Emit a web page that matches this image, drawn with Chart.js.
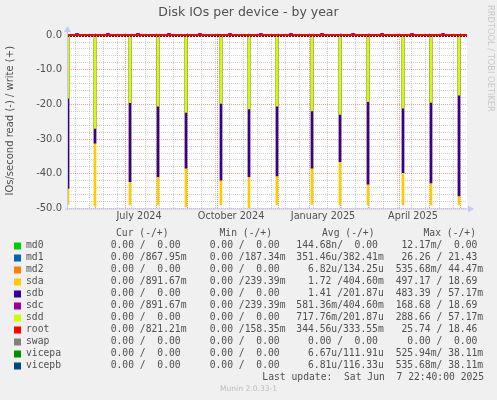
<!DOCTYPE html>
<html>
<head>
<meta charset="utf-8">
<script src="https://cdn.jsdelivr.net/npm/chart.js@4.4.1/dist/chart.umd.min.js"></script>
<style>
  html, body { margin: 0; padding: 0; background: #f0f0f0; }
  canvas { display: block; }
</style>
</head>
<body>
<canvas id="myChart" width="497" height="400"></canvas>
<script>
// 400 day window ending Sat Jun 7 2025 22:40
var windowStart = Date.UTC(2024, 4, 3, 22, 40);
var dayMs = 86400000;

var devices = ["md0", "md1", "md2", "sda", "sdb", "sdc", "sdd", "root", "swap", "vicepa", "vicepb"];
var deviceColors = ["#00cc00", "#0066b3", "#ff8000", "#ffcc00", "#330099", "#990099", "#ccff00", "#ff0000", "#808080", "#008f00", "#00487d"];

// monthly raid check spikes (day offset from window start), reads shown negative
var spikeDays = [1, 28, 63, 91, 119, 154, 182, 210, 245, 273, 301, 336, 364, 392];
var sdaRead = [-48.8, -49.3, -49.0, -49.0, -49.5, -49.0, -49.8, -49.0, -48.8, -49.0, -49.0, -49.0, -49.0, -49.0];
var sdbRead = [-44.2, -31.2, -42.3, -40.8, -38.4, -41.8, -40.8, -40.6, -38.4, -36.5, -43.0, -39.7, -42.6, -46.4];
var sddRead = [-18.2, -26.9, -19.5, -20.5, -22.3, -19.7, -21.3, -20.5, -21.9, -22.9, -19.2, -21.1, -19.4, -17.3];
// little write bumps above zero
var writeDays = [10, 41, 71, 102, 133, 163, 194, 224, 255, 286, 315, 345, 376];
var sdcWrite = [0.6, 0.6, 0.6, 0.6, 0.6, 0.6, 0.6, 0.6, 0.6, 0.6, 0.6, 0.6, 0.6];

// axis labels
var monthLabels = ["July 2024", "October 2024", "January 2025", "April 2025"];
var monthLabelDates = [[2024, 6, 15], [2024, 9, 15], [2025, 0, 15], [2025, 3, 15]];
var yLabelStep = 10;

// legend table
var legendCur = ["  0.00 /  0.00 ", "  0.00 /867.95m", "  0.00 /  0.00 ", "  0.00 /891.67m", "  0.00 /  0.00 ", "  0.00 /891.67m", "  0.00 /  0.00 ", "  0.00 /821.21m", "  0.00 /  0.00 ", "  0.00 /  0.00 ", "  0.00 /  0.00 "];
var legendMin = ["  0.00 /  0.00 ", "  0.00 /187.34m", "  0.00 /  0.00 ", "  0.00 /239.39m", "  0.00 /  0.00 ", "  0.00 /239.39m", "  0.00 /  0.00 ", "  0.00 /158.35m", "  0.00 /  0.00 ", "  0.00 /  0.00 ", "  0.00 /  0.00 "];
var legendAvg = ["144.68n/  0.00 ", "351.46u/382.41m", "  6.82u/134.25u", "  1.72 /404.60m", "  1.41 /201.87u", "581.36m/404.60m", "717.76m/201.87u", "344.56u/333.55m", "  0.00 /  0.00 ", "  6.67u/111.91u", "  6.81u/116.33u"];
var legendMax = [" 12.17m/  0.00 ", " 26.26 / 21.43 ", "535.68m/ 44.47m", "497.17 / 18.69 ", "483.39 / 57.17m", "168.68 / 18.69 ", "288.66 / 57.17m", " 25.74 / 18.46 ", "  0.00 /  0.00 ", "525.94m/ 38.11m", "535.68m/ 38.11m"];
var legendHeaders = ["Cur (-/+)", "Min (-/+)", "Avg (-/+)", "Max (-/+)"];
var lastUpdate = "Last update:  Sat Jun  7 22:40:00 2025";

function dayOf(y, m, d) {
  return (Date.UTC(y, m, d) - windowStart) / dayMs;
}

function points(days, vals) {
  var out = [];
  for (var i = 0; i < days.length; i++) out.push({ x: days[i], y: vals[i] });
  return out;
}

var seriesData = {
  sda: points(spikeDays, sdaRead),
  sdb: points(spikeDays, sdbRead),
  sdc: points(writeDays, sdcWrite),
  sdd: points(spikeDays, sddRead)
};

var datasets = devices.map(function (name, i) {
  return {
    label: name,
    data: seriesData[name] || [],
    backgroundColor: deviceColors[i],
    borderWidth: 0,
    barThickness: name === "sdc" ? 3 : 2,
    grouped: false,
    order: devices.length - i
  };
});

var MAJOR = "rgba(235,70,70,0.55)";
var MINOR = "rgba(150,150,150,0.45)";
var TEXT = "#505050";

var rrdPlugin = {
  id: "rrd",
  beforeDraw: function (chart) {
    var a = chart.chartArea, ctx = chart.ctx;
    ctx.save();
    ctx.fillStyle = "#ffffff";
    ctx.fillRect(a.left, a.top, a.right - a.left, a.bottom - a.top);
    ctx.restore();
  },
  afterDatasetsDraw: function (chart) {
    var a = chart.chartArea, ctx = chart.ctx;
    var y0 = chart.scales.y.getPixelForValue(0);
    ctx.save();
    ctx.strokeStyle = "#202020";
    ctx.lineWidth = 1;
    ctx.setLineDash([2, 1]);
    ctx.beginPath();
    ctx.moveTo(a.left, Math.round(y0) + 1.5);
    ctx.lineTo(a.right, Math.round(y0) + 1.5);
    ctx.stroke();
    ctx.setLineDash([]);
    ctx.strokeStyle = "#ff0000";
    ctx.lineWidth = 2;
    ctx.beginPath();
    ctx.moveTo(a.left, Math.round(y0));
    ctx.lineTo(a.right, Math.round(y0));
    ctx.stroke();
    ctx.restore();
  },
  afterDraw: function (chart) {
    var a = chart.chartArea, ctx = chart.ctx;
    ctx.save();
    // axis lines with arrows
    ctx.strokeStyle = "#c4c8f4";
    ctx.fillStyle = "#c4c8f4";
    ctx.lineWidth = 1;
    ctx.beginPath();
    ctx.moveTo(a.left - 2, a.bottom + 0.5);
    ctx.lineTo(a.right + 3, a.bottom + 0.5);
    ctx.moveTo(a.left + 0.5, a.bottom + 2);
    ctx.lineTo(a.left + 0.5, a.top - 2);
    ctx.stroke();
    ctx.beginPath();
    ctx.moveTo(a.right + 1, a.bottom - 3);
    ctx.lineTo(a.right + 7, a.bottom + 0.5);
    ctx.lineTo(a.right + 1, a.bottom + 4);
    ctx.fill();
    ctx.beginPath();
    ctx.moveTo(a.left - 3, a.top - 1);
    ctx.lineTo(a.left + 0.5, a.top - 7);
    ctx.lineTo(a.left + 4, a.top - 1);
    ctx.fill();

    // watermark
    ctx.save();
    ctx.translate(490, 5);
    ctx.rotate(Math.PI / 2);
    ctx.font = "8.3px 'DejaVu Sans'";
    ctx.fillStyle = "#c8c8c8";
    ctx.textAlign = "left";
    ctx.textBaseline = "middle";
    ctx.fillText("RRDTOOL / TOBI OETIKER", 0, 0);
    ctx.restore();

    // legend table
    ctx.font = "9.7px 'DejaVu Sans Mono'";
    ctx.fillStyle = TEXT;
    ctx.textBaseline = "middle";
    ctx.textAlign = "left";
    var headerX = [116, 219.5, 322, 423.5];
    legendHeaders.forEach(function (h, i) { ctx.fillText(h, headerX[i], 233.5); });
    var colX = [99, 198, 296.3, 395.7];
    var cols = [legendCur, legendMin, legendAvg, legendMax];
    devices.forEach(function (name, i) {
      var y = 245.8 + i * 12;
      ctx.fillStyle = deviceColors[i];
      ctx.fillRect(14, Math.round(y) - 3.5, 7, 7);
      ctx.fillStyle = TEXT;
      ctx.fillText(name, 26, y);
      cols.forEach(function (c, j) { ctx.fillText(c[i], colX[j], y); });
    });
    ctx.textAlign = "right";
    ctx.fillText(lastUpdate, 484, 377.8);
    ctx.textAlign = "center";
    ctx.font = "7.6px 'DejaVu Sans'";
    ctx.fillStyle = "#bcbcbc";
    ctx.fillText("Munin 2.0.33-1", 248.5, 389.3);
    ctx.restore();
  }
};

var chart = new Chart(document.getElementById("myChart"), {
  type: "bar",
  data: { datasets: datasets },
  options: {
    responsive: false,
    animation: false,
    devicePixelRatio: 1,
    layout: { padding: { left: 0, right: 0, top: 0, bottom: 171.5 } },
    plugins: {
      legend: { display: false },
      tooltip: { enabled: false },
      title: {
        display: true,
        text: "Disk IOs per device - by year",
        color: TEXT,
        font: { family: "DejaVu Sans", size: 12.5, weight: "normal" },
        padding: { top: 5, bottom: 13 }
      }
    },
    scales: {
      x: {
        type: "linear",
        min: 0,
        max: 400,
        offset: false,
        afterBuildTicks: function (scale) {
          var t = [];
          for (var d = dayOf(2024, 4, 12); d < 400; d += 14) t.push({ value: d, kind: "minor" });
          for (var m = 5; m <= 17; m++) t.push({ value: dayOf(2024, m, 1), kind: "major" });
          monthLabelDates.forEach(function (md, i) {
            t.push({ value: dayOf(md[0], md[1], md[2]), kind: "label", text: monthLabels[i] });
          });
          scale.ticks = t;
        },
        afterFit: function (scale) { scale.height = 20; },
        ticks: {
          autoSkip: false,
          maxRotation: 0,
          minRotation: 0,
          padding: 2,
          color: TEXT,
          font: { family: "DejaVu Sans", size: 9.7 },
          callback: function (v, i, ticks) { return ticks[i].kind === "label" ? ticks[i].text : ""; }
        },
        grid: {
          offset: false,
          drawTicks: false,
          lineWidth: 1,
          color: function (c) {
            if (!c.tick) return "transparent";
            if (c.tick.kind === "major") return MAJOR;
            if (c.tick.kind === "minor") return MINOR;
            return "transparent";
          }
        },
        border: { display: false, dash: [1, 1] }
      },
      y: {
        type: "linear",
        min: -50,
        max: 0.6,
        afterBuildTicks: function (scale) {
          var t = [];
          for (var v = -50; v <= 0; v += 2) t.push({ value: v });
          scale.ticks = t;
        },
        afterFit: function (scale) { scale.width = 67; },
        ticks: {
          autoSkip: false,
          padding: 5,
          color: TEXT,
          font: { family: "DejaVu Sans", size: 10 },
          callback: function (v) { return v % yLabelStep === 0 ? v.toFixed(1) : ""; }
        },
        grid: {
          drawTicks: false,
          lineWidth: 1,
          color: function (c) {
            if (!c.tick || c.tick.value === 0) return "transparent";
            return c.tick.value % yLabelStep === 0 ? MAJOR : MINOR;
          }
        },
        border: { display: false, dash: [1, 1] },
        title: {
          display: true,
          text: "IOs/second read (-) / write (+)",
          color: TEXT,
          font: { family: "DejaVu Sans", size: 10 },
          padding: { top: 4, bottom: 0 }
        }
      },
      yRight: {
        type: "linear",
        position: "right",
        display: true,
        grid: { display: false },
        ticks: { display: false },
        border: { display: false },
        afterFit: function (scale) { scale.width = 30; }
      }
    }
  },
  plugins: [rrdPlugin]
});
</script>
</body>
</html>
